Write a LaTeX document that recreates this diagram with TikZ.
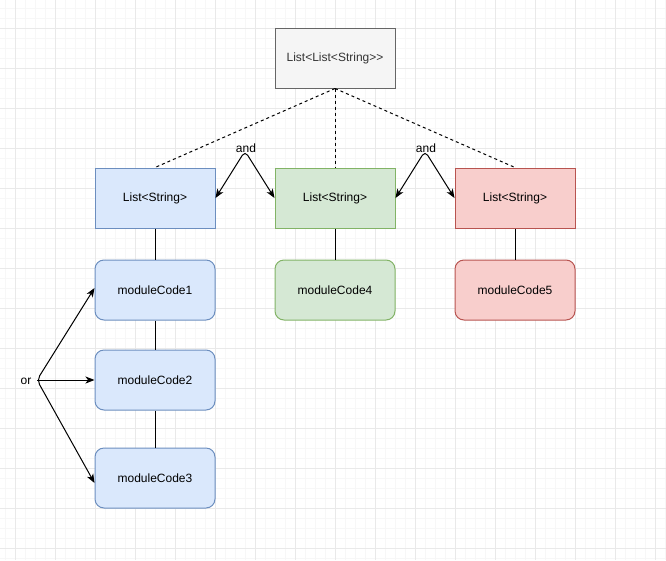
\documentclass[tikz,border=0pt]{standalone}
\usepackage{fontspec}
\setmainfont{Liberation Sans}
\usetikzlibrary{arrows.meta}
\definecolor{gridmajor}{HTML}{E9E9E9}
\definecolor{gridminor}{HTML}{F7F7F7}
\definecolor{grayfill}{HTML}{F5F5F5}
\definecolor{graystroke}{HTML}{666666}
\definecolor{graytext}{HTML}{333333}
\definecolor{bluefill}{HTML}{DAE8FC}
\definecolor{bluestroke}{HTML}{6C8EBF}
\definecolor{greenfill}{HTML}{D5E8D4}
\definecolor{greenstroke}{HTML}{82B366}
\definecolor{redfill}{HTML}{F8CECC}
\definecolor{redstroke}{HTML}{B85450}
\tikzset{
  box/.style={rectangle, draw, line width=1pt, minimum width=120pt, minimum height=60pt, inner sep=0pt,
    font=\fontsize{12pt}{14pt}\selectfont},
  rbox/.style={box, rounded corners=9pt},
  bluebox/.style={fill=bluefill, draw=bluestroke},
  greenbox/.style={fill=greenfill, draw=greenstroke},
  redbox/.style={fill=redfill, draw=redstroke},
  link/.style={line width=1pt, black},
  dlink/.style={line width=1pt, black, dash pattern=on 3pt off 3pt},
  arr/.style={line width=1pt, black, rounded corners=5pt},
  tip/.tip={Stealth[length=9pt, width=7pt, inset=2.5pt]},
  lbl/.style={font=\fontsize{12pt}{14pt}\selectfont, inner sep=0pt},
}
\begin{document}
\begin{tikzpicture}[x=1pt, y=-1pt]
\useasboundingbox (0,0) rectangle (666,560);
\fill[white] (0,0) rectangle (666,560);
\foreach \x in {5,15,...,665} \draw[gridminor, line width=1pt] (\x,0) -- (\x,560);
\foreach \y in {8,18,...,558} \draw[gridminor, line width=1pt] (0,\y) -- (666,\y);
\foreach \x in {15,55,...,655} \draw[gridmajor, line width=1pt] (\x,0) -- (\x,560);
\foreach \y in {28,68,...,548} \draw[gridmajor, line width=1pt] (0,\y) -- (666,\y);

\node[box, fill=grayfill, draw=graystroke, text=graytext] (top) at (335,58) {List<List<String>{}>};

\node[box, bluebox] (lb) at (155,198) {List<String>};
\node[box, greenbox] (lg) at (335,198) {List<String>};
\node[box, redbox] (lr) at (515,198) {List<String>};

\node[rbox, bluebox] (m1) at (155,290) {moduleCode1};
\node[rbox, bluebox] (m2) at (155,380) {moduleCode2};
\node[rbox, bluebox] (m3) at (155,478) {moduleCode3};
\node[rbox, greenbox] (m4) at (335,290) {moduleCode4};
\node[rbox, redbox] (m5) at (515,290) {moduleCode5};

\draw[dlink] (top.south) -- (lb.north);
\draw[dlink] (top.south) -- (lg.north);
\draw[dlink] (top.south) -- (lr.north);

\draw[link] (lb.south) -- (m1.north);
\draw[link] (m1.south) -- (m2.north);
\draw[link] (m2.south) -- (m3.north);
\draw[link] (lg.south) -- (m4.north);
\draw[link] (lr.south) -- (m5.north);

\coordinate (and1) at (245,151);
\coordinate (and2) at (425,151);
\coordinate (or1) at (37,380);

\draw[arr, tip-tip] (lb.east) -- (and1) -- (lg.west);
\draw[arr, tip-tip] (lg.east) -- (and2) -- (lr.west);
\node[lbl] (andl1) at (246,148) {and};
\node[lbl] (andl2) at (426,148) {and};

\draw[arr, tip-tip] ([yshift=2pt]m1.west) -- (or1) -- ([yshift=-5pt]m3.west);
\draw[arr, -tip] (or1) -- (m2.west);
\node[lbl] (orl) at (26,381) {or};
\end{tikzpicture}
\end{document}
